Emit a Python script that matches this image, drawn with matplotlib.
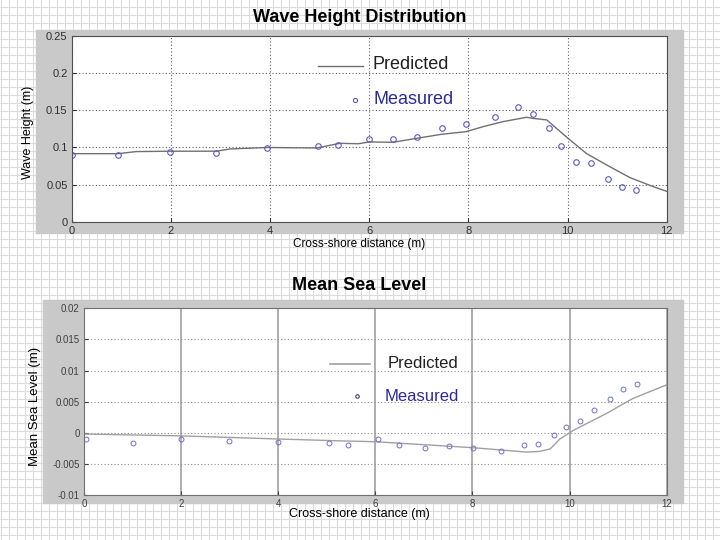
import matplotlib
matplotlib.use('Agg')
import matplotlib.pyplot as plt
from matplotlib.patches import Rectangle

plt.rcParams['font.family'] = ['Liberation Sans', 'DejaVu Sans']

# wave height data
wh_meas_x = [0.0, 0.94, 1.98, 2.92, 3.94, 4.97, 5.38, 6.0, 6.48, 6.96, 7.46, 7.95,
             8.53, 9.0, 9.30, 9.62, 9.87, 10.18, 10.48, 10.81, 11.09, 11.39]
wh_meas_y = [0.090, 0.090, 0.0935, 0.0926, 0.0993, 0.102, 0.1034, 0.111, 0.1114, 0.1146, 0.126, 0.1315,
             0.1405, 0.1544, 0.1454, 0.1266, 0.102, 0.0805, 0.0792, 0.0581, 0.047, 0.0434]
wh_pred_x = [0.0, 0.94, 1.3, 1.98, 2.92, 3.19, 3.94, 4.94, 5.41, 5.78, 6.0, 6.48, 6.96,
             7.46, 7.95, 8.3, 8.7, 9.17, 9.31, 9.58, 9.98, 10.38, 10.79, 11.26, 11.73, 12.0]
wh_pred_y = [0.0917, 0.0917, 0.0945, 0.095, 0.095, 0.098, 0.100, 0.0993, 0.1056, 0.105, 0.1074, 0.107, 0.1123,
             0.1177, 0.1212, 0.128, 0.1347, 0.1405, 0.139, 0.137, 0.114, 0.092, 0.0765, 0.0595, 0.0474, 0.0412]

# mean sea level data
msl_meas_x = [0.05, 1.0, 2.0, 2.98, 4.0, 5.05, 5.44, 6.06, 6.49, 7.03, 7.52, 8.02, 8.59,
              9.06, 9.34, 9.67, 9.92, 10.21, 10.51, 10.83, 11.1, 11.38]
msl_meas_y = [-0.0010, -0.00165, -0.0010, -0.0014, -0.00154, -0.0017, -0.0020, -0.0010, -0.0020, -0.0024,
              -0.0022, -0.0025, -0.0030, -0.0020, -0.0018, -0.0004, 0.0009, 0.0019, 0.0037, 0.0054, 0.0070, 0.0078]
msl_pred_x = [0.0, 2.0, 4.0, 5.27, 6.0, 8.01, 9.11, 9.38, 9.6, 9.8, 10.08, 10.76, 11.3, 12.0]
msl_pred_y = [-0.0002, -0.0005, -0.0010, -0.0013, -0.00144, -0.0024, -0.0031, -0.0030, -0.0026, -0.0010,
              0.0004, 0.0031, 0.0055, 0.0077]

W, H = 720, 540
fig = plt.figure(figsize=(7.2, 5.4), dpi=100, facecolor='white')

# graph-paper background
bg = fig.add_axes([0, 0, 1, 1], zorder=-10)
bg.set_xlim(0, W)
bg.set_ylim(H, 0)
bg.axis('off')
for gx in range(1, W, 8):
    bg.axvline(gx, color='#dcdcdc', lw=0.8)
for gy in range(7, H, 8):
    bg.axhline(gy, color='#dcdcdc', lw=0.8)


def px_rect(x0, y0, x1, y1):
    return [x0 / W, 1 - y1 / H, (x1 - x0) / W, (y1 - y0) / H]


# gray panels behind axes
for (x0, y0, x1, y1) in [(36, 30, 683, 233), (43, 300, 683, 503)]:
    bg.add_patch(Rectangle((x0, y0), x1 - x0, y1 - y0, color='#c9c9c9', zorder=2))

# ---- top: wave height ----
ax1 = fig.add_axes(px_rect(71.7, 35.7, 666.7, 222))
ax1.plot(wh_pred_x, wh_pred_y, color='#707070', lw=1.0)
ax1.plot(wh_meas_x, wh_meas_y, 'o', mfc='none', mec='#5a5ac0', ms=4, mew=0.8)
ax1.set_xlim(0, 12)
ax1.set_ylim(0, 0.25)
ax1.set_xticks([0, 2, 4, 6, 8, 10, 12])
ax1.set_yticks([0, 0.05, 0.1, 0.15, 0.2, 0.25])
ax1.set_yticklabels(['0', '0.05', '0.1', '0.15', '0.2', '0.25'])
ax1.grid(True, color='#606060', linestyle=(0, (1, 2)), lw=0.8)
ax1.tick_params(direction='in', length=3, labelsize=8, colors='#303030', pad=3)
for sp in ax1.spines.values():
    sp.set_color('#505050')
    sp.set_linewidth(0.8)
ax1.set_xlabel('Cross-shore distance (m)', fontsize=8.5)
ax1.xaxis.set_label_coords(0.483, -0.086)
ax1.set_ylabel('Wave Height (m)', fontsize=9)
ax1.yaxis.set_label_coords(-0.063, 0.483)

ax1.plot([0.414, 0.4896], [0.837, 0.837], color='#707070', lw=1.0, transform=ax1.transAxes)
ax1.text(0.506, 0.848, 'Predicted', fontsize=13, color='#202020', va='center', transform=ax1.transAxes)
ax1.plot([0.476], [0.655], 'o', mfc='none', mec='#5a5ac0', ms=3, mew=0.8, transform=ax1.transAxes)
ax1.text(0.508, 0.655, 'Measured', fontsize=13, color='#2a2a9a', va='center', transform=ax1.transAxes)

fig.text(0.499, 1 - 17 / H, 'Wave Height Distribution', fontsize=13, fontweight='bold',
         ha='center', va='center')

# ---- bottom: mean sea level ----
ax2 = fig.add_axes(px_rect(84, 308.3, 666.7, 495))
ax2.plot(msl_pred_x, msl_pred_y, color='#a0a0a0', lw=1.0)
ax2.plot(msl_meas_x, msl_meas_y, 'o', mfc='none', mec='#7070d0', ms=3.5, mew=0.7)
ax2.set_xlim(0, 12)
ax2.set_ylim(-0.01, 0.02)
ax2.set_xticks([0, 2, 4, 6, 8, 10, 12])
ax2.set_yticks([-0.01, -0.005, 0, 0.005, 0.01, 0.015, 0.02])
ax2.set_yticklabels(['-0.01', '-0.005', '0', '0.005', '0.01', '0.015', '0.02'])
ax2.yaxis.grid(True, color='#909090', linestyle=(0, (1, 2)), lw=0.8)
ax2.xaxis.grid(True, color='#a8a8a8', linestyle='-', lw=1.3)
ax2.tick_params(direction='in', length=3, labelsize=7, colors='#404040', pad=3)
for sp in ax2.spines.values():
    sp.set_color('#707070')
    sp.set_linewidth(0.8)
ax2.set_xlabel('Cross-shore distance (m)', fontsize=9)
ax2.xaxis.set_label_coords(0.472, -0.07)
ax2.set_ylabel('Mean Sea Level (m)', fontsize=9.5)
ax2.yaxis.set_label_coords(-0.074, 0.477)

ax2.plot([0.422, 0.491], [0.7017, 0.7017], color='#a0a0a0', lw=1.2, transform=ax2.transAxes)
ax2.text(0.521, 0.707, 'Predicted', fontsize=12, color='#202020', va='center', transform=ax2.transAxes)
ax2.plot([0.468], [0.530], 'o', mfc='none', mec='#404080', ms=2.5, mew=0.8, transform=ax2.transAxes)
ax2.text(0.516, 0.530, 'Measured', fontsize=12, color='#2a2a9a', va='center', transform=ax2.transAxes)

fig.text(0.499, 1 - 285 / H, 'Mean Sea Level', fontsize=13, fontweight='bold',
         ha='center', va='center')

fig.savefig('out.png', dpi=100, facecolor='white')
